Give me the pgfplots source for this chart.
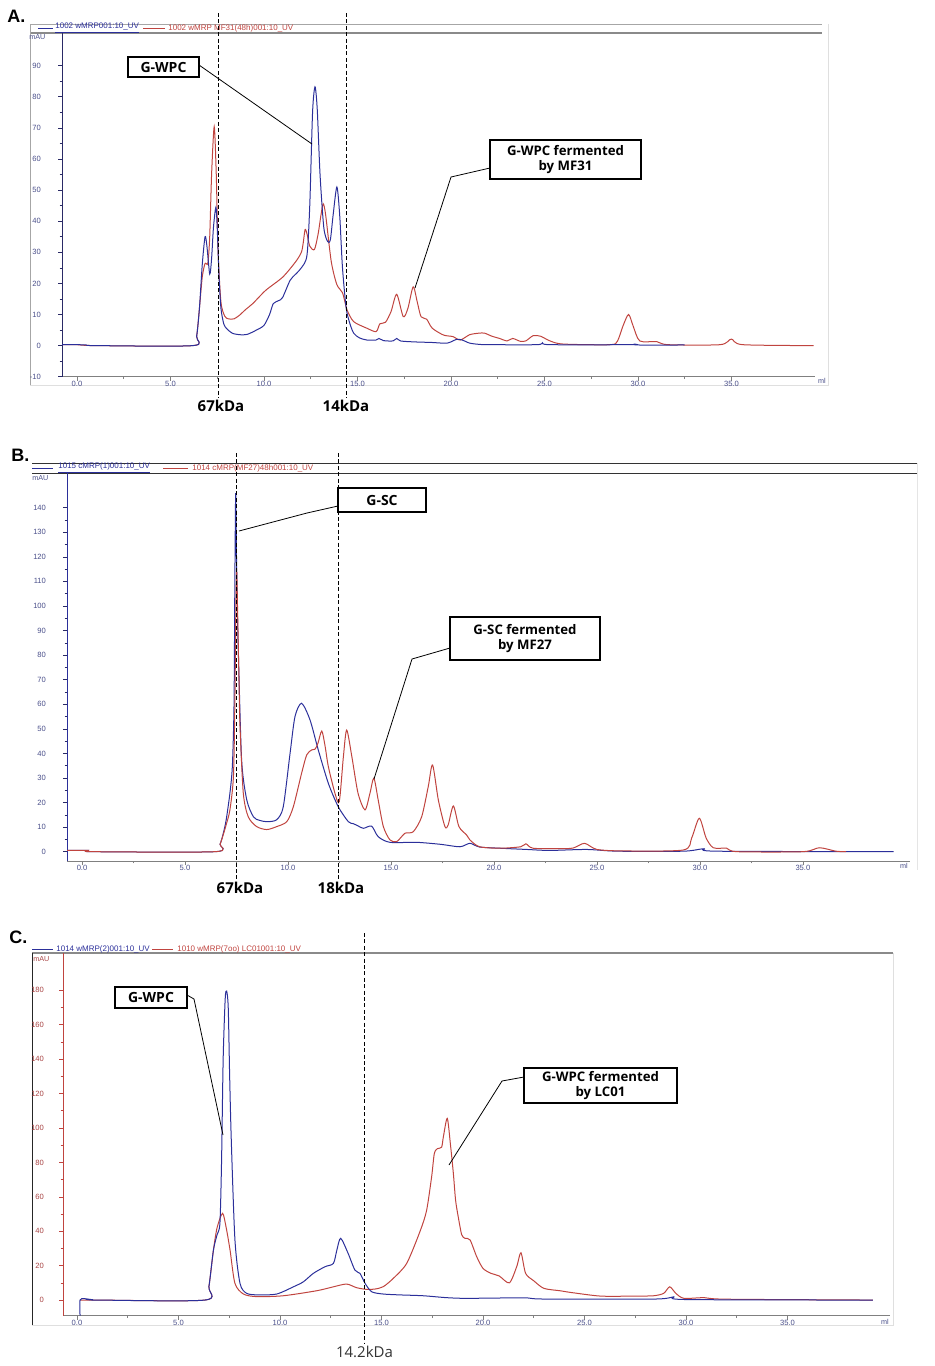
\documentclass[border=0pt]{standalone}
\usepackage{fontspec}
\setmainfont{Liberation Sans}
\newfontfamily\boxfont{Open Sans}
\usepackage{pgfplots}
\pgfplotsset{compat=1.18}
\definecolor{cblue}{HTML}{2B2F9A}
\definecolor{cred}{HTML}{C0443F}
\definecolor{tickblue}{HTML}{4A4F8A}
\definecolor{tickred}{HTML}{A84444}
\definecolor{navy}{HTML}{2A2A66}
\definecolor{framegray}{HTML}{8A8A8A}

\pgfplotsset{
  chrom/.style={
    scale only axis, anchor=south west,
    axis x line=bottom, axis y line=left,
    axis line style={-},
    x axis line style={color=gray, line width=0.5pt},
    xtick={0,5,10,15,20,25,30,35},
    xticklabels={0.0,5.0,10.0,15.0,20.0,25.0,30.0,35.0},
    minor x tick num=1,
    minor y tick num=1,
    major tick length=2pt, minor tick length=1.2pt,
    x tick style={color=gray, line width=0.3pt},
    tick align=outside,
    /pgf/number format/assume math mode=true,
    tick label style={font=\fontsize{3.8}{4}\selectfont},
    xticklabel style={color=tickblue, yshift=3.5pt},
    yticklabel style={xshift=-5pt},
    every axis plot/.append style={line width=0.5pt, no marks, smooth, tension=0.45},
    clip=true,
  },
  blueaxis/.style={
    y axis line style={color=navy, line width=0.5pt},
    y tick style={color=navy, line width=0.3pt},
    yticklabel style={color=tickblue},
  },
}

\begin{document}
\begin{tikzpicture}[x=0.5pt,y=-0.5pt]
\path[use as bounding box] (0,0) rectangle (934,1366);

% ================= Panel A =================
\node[anchor=south west, inner sep=0pt, font=\fontsize{9}{9}\selectfont\bfseries] at (7,23) {A.};
\draw[gray!70, line width=0.5pt] (30,24) -- (822,24);
\draw[framegray, line width=0.8pt] (30,33) -- (822,33);
\draw[gray!70, line width=0.5pt] (30,24) -- (30,385);
\draw[gray!25, line width=0.4pt] (30,385) -- (828,385) -- (828,24);
\draw[cblue, line width=0.4pt] (38,28.5) -- (53,28.5);
\node[anchor=west, inner sep=0pt, text=cblue, font=\fontsize{4}{4}\selectfont] at (55,28.5) {\underline{1002 wMRP001:10\_UV}};
\draw[cred, line width=0.4pt] (143,28.5) -- (165,28.5);
\node[anchor=west, inner sep=0pt, text=cred, font=\fontsize{4}{4}\selectfont] at (168,28.5) {1002 wMRP MF31(48h)001:10\_UV};
\node[anchor=south west, inner sep=0pt, text=tickblue, font=\fontsize{3.6}{4}\selectfont] at (29,40) {mAU};
\node[inner sep=0pt, text=tickblue, font=\fontsize{3.6}{4}\selectfont] at (822,381) {ml};

\begin{axis}[chrom, blueaxis, at={(31pt,-188.35pt)},
  width=376.5pt, height=171.85pt,
  xmin=-0.8, xmax=39.47, ymin=-10, ymax=100.5,
  ytick={-10,0,10,20,30,40,50,60,70,80,90}]
\addplot[cred] coordinates {
(-0.8,0.3) (0.0,0.3) (1.0,0) (6.2,0) (6.4,3) (6.55,12) (6.7,22) (6.85,26.4)
(7.0,26.5) (7.1,35) (7.2,55) (7.34,70.4) (7.45,55) (7.55,30) (7.7,14) (7.9,9.5)
(8.1,8.6) (8.4,8.6) (8.7,9.8) (9.0,11.5) (9.4,13.5) (10.1,17.8) (11.0,22) (11.7,27)
(12.0,30) (12.1,33) (12.2,37.3) (12.3,36) (12.45,32) (12.7,30.9) (12.9,36) (13.05,42)
(13.17,45.6) (13.3,42) (13.6,27) (13.9,19.6) (14.2,17) (14.45,11.4) (14.8,7.7) (15.5,5.6)
(16.0,4.5) (16.2,7) (16.5,7.5) (16.8,11) (17.1,16.5) (17.45,9.3) (17.7,12) (17.98,18.9)
(18.2,14) (18.4,9.3) (18.7,8.5) (19.0,5.6) (19.6,3.4) (20.1,2.9) (20.5,1.8) (21.0,3.5)
(21.5,4.0) (21.8,4.0) (22.2,3.0) (22.6,2.3) (23.0,1.5) (23.3,2.3) (23.7,1.4) (24.0,1.5)
(24.4,3.2) (24.8,3.0) (25.3,1.5) (26.0,0.5) (28.5,0.3) (28.9,1.4) (29.2,6.3) (29.5,10)
(29.75,6.2) (30.1,1.5) (31.0,1.3) (31.6,0.3) (34.4,0.3) (35.0,2.1) (35.6,0.3) (39.4,0)
};
\addplot[cblue] coordinates {
(-0.8,0.3) (0.0,0.3) (0.5,0.2) (1.0,0) (6.2,0) (6.4,3) (6.55,12) (6.7,26)
(6.85,35) (6.95,32) (7.1,23) (7.2,28) (7.3,38) (7.43,44.5) (7.5,38) (7.6,22)
(7.7,12) (7.85,7) (8.0,5.5) (8.3,4.0) (8.7,3.5) (9.1,3.6) (9.6,5) (10.0,6.5)
(10.3,10) (10.5,13.5) (10.8,14.5) (11.0,15.5) (11.4,21) (11.7,23) (12.0,25) (12.3,29)
(12.45,45) (12.6,75) (12.73,83.2) (12.85,76) (13.0,55) (13.2,38) (13.4,33.5) (13.55,34)
(13.7,42) (13.9,51) (14.05,42) (14.2,25) (14.4,12) (14.6,7) (14.8,4) (15.1,2.5)
(15.5,1.8) (16.0,1.8) (16.15,2.3) (16.4,1.6) (16.9,1.5) (17.1,2.3) (17.3,1.5) (18.0,1.2)
(19.0,1.0) (19.8,0.8) (20.3,2.0) (20.6,1.8) (21.0,0.8) (21.5,0.4) (22.0,0.3) (24.6,0.3)
(24.9,0.9) (25.3,0.3) (29.6,0.3) (29.8,0.5) (30.0,0.2) (32.5,0.2)
};
\end{axis}

\draw[dash pattern=on 2pt off 1.2pt, line width=0.5pt] (218,13) -- (218,398);
\draw[dash pattern=on 2pt off 1.2pt, line width=0.5pt] (346,13) -- (346,398);
\node[font=\boxfont\bfseries\fontsize{7.5}{8}\selectfont, inner sep=0pt] at (221,406) {67kDa};
\node[font=\boxfont\bfseries\fontsize{7.5}{8}\selectfont, inner sep=0pt] at (346,406) {14kDa};

\draw[line width=0.4pt] (199,65) -- (312,144);
\draw[fill=white, line width=0.6pt] (128,57) rectangle (199,77);
\node[font=\boxfont\bfseries\fontsize{7}{8}\selectfont, inner sep=0pt] at (163.5,67) {G-WPC};
\draw[line width=0.4pt] (490,168) -- (451,177) -- (415,288);
\draw[fill=white, line width=0.6pt] (490,140) rectangle (641,179);
\node[font=\boxfont\bfseries\fontsize{6.6}{7.5}\selectfont, inner sep=0pt, align=center] at (565.5,159.5) {G-WPC fermented\\by MF31};

% ================= Panel B =================
\node[anchor=south west, inner sep=0pt, font=\fontsize{9}{9}\selectfont\bfseries] at (11,462) {B.};
\draw[black!80, line width=0.5pt] (32,463.3) -- (917,463.3);
\draw[black!80, line width=0.6pt] (32,473.3) -- (917,473.3);
\draw[gray!20, line width=0.4pt] (917,463.3) -- (917,870);
\draw[cblue, line width=0.4pt] (32,468) -- (53,468);
\node[anchor=west, inner sep=0pt, text=cblue, font=\fontsize{4}{4}\selectfont] at (58,468) {\underline{1015 cMRP(1)001:10\_UV}};
\draw[cred, line width=0.4pt] (163,468) -- (188,468);
\node[anchor=west, inner sep=0pt, text=cred, font=\fontsize{4}{4}\selectfont] at (192,468) {1014 cMRP(MF27)48h001:10\_UV};
\node[anchor=south west, inner sep=0pt, text=tickblue, font=\fontsize{3.6}{4}\selectfont] at (32,481) {mAU};
\node[inner sep=0pt, text=tickblue, font=\fontsize{3.6}{4}\selectfont] at (904,866) {ml};

\begin{axis}[chrom, blueaxis, at={(33.5pt,-430.5pt)},
  width=421.5pt, height=194pt,
  xmin=-0.73, xmax=40.2, ymin=-3.8, ymax=154.1,
  ytick={0,10,...,140},
  y axis line style={color=cblue, line width=0.5pt}]
\addplot[cblue] coordinates {
(-0.73,0.5) (0.3,0.5) (0.5,0) (6.46,0) (6.7,3) (6.86,7.5) (7.0,13) (7.18,23.8)
(7.3,35) (7.38,60) (7.42,110) (7.46,145.9) (7.5,120) (7.55,95) (7.6,78) (7.75,37)
(8.0,21) (8.32,14.2) (8.6,12.8) (8.97,12.2) (9.45,13) (9.77,18.3) (10.1,40) (10.34,55)
(10.66,60.4) (11.07,53.6) (11.47,41.4) (11.96,27.8) (12.44,18.3) (12.93,12.2) (13.17,11.4) (13.4,10.5)
(13.66,9.5) (14.06,10.4) (14.38,6.1) (14.95,3.8) (16.25,3.8) (17.4,3.0) (18.35,2.0) (18.83,3.4)
(19.3,1.9) (20.3,1.4) (21.6,0.9) (22.7,0.5) (24.5,0.9) (26.0,0.2) (29.2,0.2) (30.2,1.2)
(30.8,0.2) (39.4,0)
};
\addplot[cred] coordinates {
(-0.73,0.5) (0.3,0.5) (0.5,0) (6.46,0) (6.7,3) (6.86,7) (7.0,11) (7.18,17)
(7.35,30.5) (7.42,60) (7.47,100) (7.51,114) (7.56,95) (7.62,70) (7.67,51) (7.83,23.8)
(8.07,14.2) (8.48,10.2) (8.97,9.0) (9.45,10.2) (9.94,12.2) (10.26,18.3) (10.66,31.9) (10.91,39.4)
(11.15,41.4) (11.31,41.7) (11.45,44) (11.64,49.1) (11.8,43) (11.96,34.6) (12.28,23.8) (12.49,20.4)
(12.69,38.7) (12.85,49.5) (13.1,38.7) (13.4,23.8) (13.74,17) (13.98,23.8) (14.17,29.9) (14.38,21)
(14.63,10.2) (14.95,4.8) (15.28,4.1) (15.68,7.5) (16.08,8.1) (16.49,14.2) (16.81,26.5) (17.02,35.3)
(17.3,21) (17.62,10.2) (17.78,11) (18.03,18.6) (18.3,10.2) (18.67,6.8) (18.83,4.8) (19.3,2.0)
(20.3,1.4) (21.3,2.0) (21.55,3.2) (21.9,1.4) (23.2,1.2) (23.85,1.5) (24.4,3.4) (25.0,0.9)
(26.3,0.3) (29.2,0.7) (29.6,5.6) (29.97,13.6) (30.3,5.6) (30.65,1.6) (31.3,1.4) (31.8,0)
(35.0,0) (35.8,1.6) (36.6,0.2) (37.1,0)
};
\end{axis}

\draw[dash pattern=on 2pt off 1.2pt, line width=0.5pt] (236,453) -- (236,880);
\draw[dash pattern=on 2pt off 1.2pt, line width=0.5pt] (338,453) -- (338,880);
\node[font=\boxfont\bfseries\fontsize{7.5}{8}\selectfont, inner sep=0pt] at (240,888) {67kDa};
\node[font=\boxfont\bfseries\fontsize{7.5}{8}\selectfont, inner sep=0pt] at (341,888) {18kDa};

\draw[line width=0.4pt] (338,506) -- (307,513) -- (239,531);
\draw[fill=white, line width=0.6pt] (338,488) rectangle (426,512);
\node[font=\boxfont\bfseries\fontsize{7}{8}\selectfont, inner sep=0pt] at (382,500) {G-SC};
\draw[line width=0.4pt] (450,648) -- (412,659) -- (374,779);
\draw[fill=white, line width=0.6pt] (450,617) rectangle (600,660);
\node[font=\boxfont\bfseries\fontsize{6.6}{7.5}\selectfont, inner sep=0pt, align=center] at (525,638.5) {G-SC fermented\\by MF27};

% ================= Panel C =================
\node[anchor=south west, inner sep=0pt, font=\fontsize{9}{9}\selectfont\bfseries] at (9,944) {C.};
\draw[framegray, line width=0.7pt] (32,953) -- (893,953);
\draw[black!85, line width=0.5pt] (32,953) -- (32,1325);
\draw[gray!25, line width=0.4pt] (32,1325) -- (893,1325) -- (893,953);
\draw[cblue, line width=0.4pt] (32,949) -- (53,949);
\node[anchor=west, inner sep=0pt, text=cblue, font=\fontsize{4}{4}\selectfont] at (56,949) {1014 wMRP(2)001:10\_UV};
\draw[cred, line width=0.4pt] (152,949) -- (173,949);
\node[anchor=west, inner sep=0pt, text=cred, font=\fontsize{4}{4}\selectfont] at (177,949) {1010 wMRP(7oo) LC01001:10\_UV};
\node[anchor=south west, inner sep=0pt, text=tickred, font=\fontsize{3.6}{4}\selectfont] at (33,962) {mAU};
\node[inner sep=0pt, text=tickblue, font=\fontsize{3.6}{4}\selectfont] at (885,1322) {ml};

\begin{axis}[chrom, at={(31.5pt,-657.85pt)},
  width=413.5pt, height=181.35pt,
  xmin=-0.69, xmax=40.05, ymin=-9.1, ymax=201.7,
  ytick={0,20,...,180},
  y axis line style={color=cred, line width=0.5pt},
  y tick style={color=cred, line width=0.3pt},
  yticklabel style={color=tickred, xshift=1pt}]
\addplot[cred] coordinates {
(0.15,0) (1.0,0) (6.3,0) (6.5,8) (6.72,29) (6.9,42) (7.17,50.4) (7.35,42)
(7.54,29) (7.78,9.7) (8.2,3.5) (8.85,2.0) (10.16,2.5) (11.8,5.4) (12.63,7.7) (13.28,9.3)
(13.77,7.2) (14.27,6.2) (14.68,6.4) (15.09,7.8) (15.58,12.6) (16.24,21.3) (16.9,40) (17.22,52)
(17.47,71.7) (17.6,85) (17.75,88) (17.96,88.8) (18.05,95) (18.24,105.6) (18.4,90) (18.54,73.6)
(18.65,58) (18.78,48.4) (18.95,38) (19.11,35.9) (19.36,35) (19.69,25.2) (20.0,18.4) (20.4,15.5)
(20.8,14) (21.3,10) (21.66,19.4) (21.87,27.5) (22.1,15.5) (22.5,11.2) (23.0,6.8) (23.8,5.4)
(24.4,4.3) (25.8,2.3) (27.4,2.3) (28.4,2.5) (28.9,3.9) (29.2,7.7) (29.5,3.9) (29.9,1.0)
(30.9,1.4) (32.0,0.5) (39.2,0)
};
\addplot[cblue] coordinates {
(0.15,-9.1) (0.15,0) (0.35,0.8) (0.7,0.3) (1.0,0) (6.3,0) (6.5,8) (6.72,29)
(6.9,38) (7.04,44.6) (7.12,80) (7.2,140) (7.3,175) (7.37,179.6) (7.45,170) (7.52,130)
(7.6,93) (7.78,35) (8.03,9.7) (8.36,3.9) (8.95,3.0) (9.84,3.5) (10.66,7.7) (11.15,10.6)
(11.64,15.5) (12.22,19.4) (12.63,21.3) (12.8,29) (12.99,35.9) (13.36,27) (13.69,17.4) (13.94,15.5)
(14.19,9.7) (14.52,4.8) (15.09,3.5) (15.9,3.0) (17.06,2.5) (18.2,1.4) (19.2,1.0) (22.0,1.3)
(23.0,0.6) (28.5,0.6) (29.4,1.9) (30.0,0.3) (39.2,0)
};
\end{axis}

\draw[dash pattern=on 2pt off 1.2pt, line width=0.5pt] (364,933) -- (364,1343);
\node[font=\boxfont\fontsize{7.5}{8}\selectfont, inner sep=0pt, text=black!80] at (364.5,1352) {14.2kDa};

\draw[line width=0.4pt] (187,995) -- (194,999) -- (223,1135);
\draw[fill=white, line width=0.6pt] (115,987) rectangle (187,1008);
\node[font=\boxfont\bfseries\fontsize{7}{8}\selectfont, inner sep=0pt] at (151,997.5) {G-WPC};
\draw[line width=0.4pt] (524,1077) -- (502,1081) -- (449,1165);
\draw[fill=white, line width=0.6pt] (524,1068) rectangle (677,1103);
\node[font=\boxfont\bfseries\fontsize{6.6}{7.5}\selectfont, inner sep=0pt, align=center] at (600.5,1085.5) {G-WPC fermented\\by LC01};
\end{tikzpicture}
\end{document}
